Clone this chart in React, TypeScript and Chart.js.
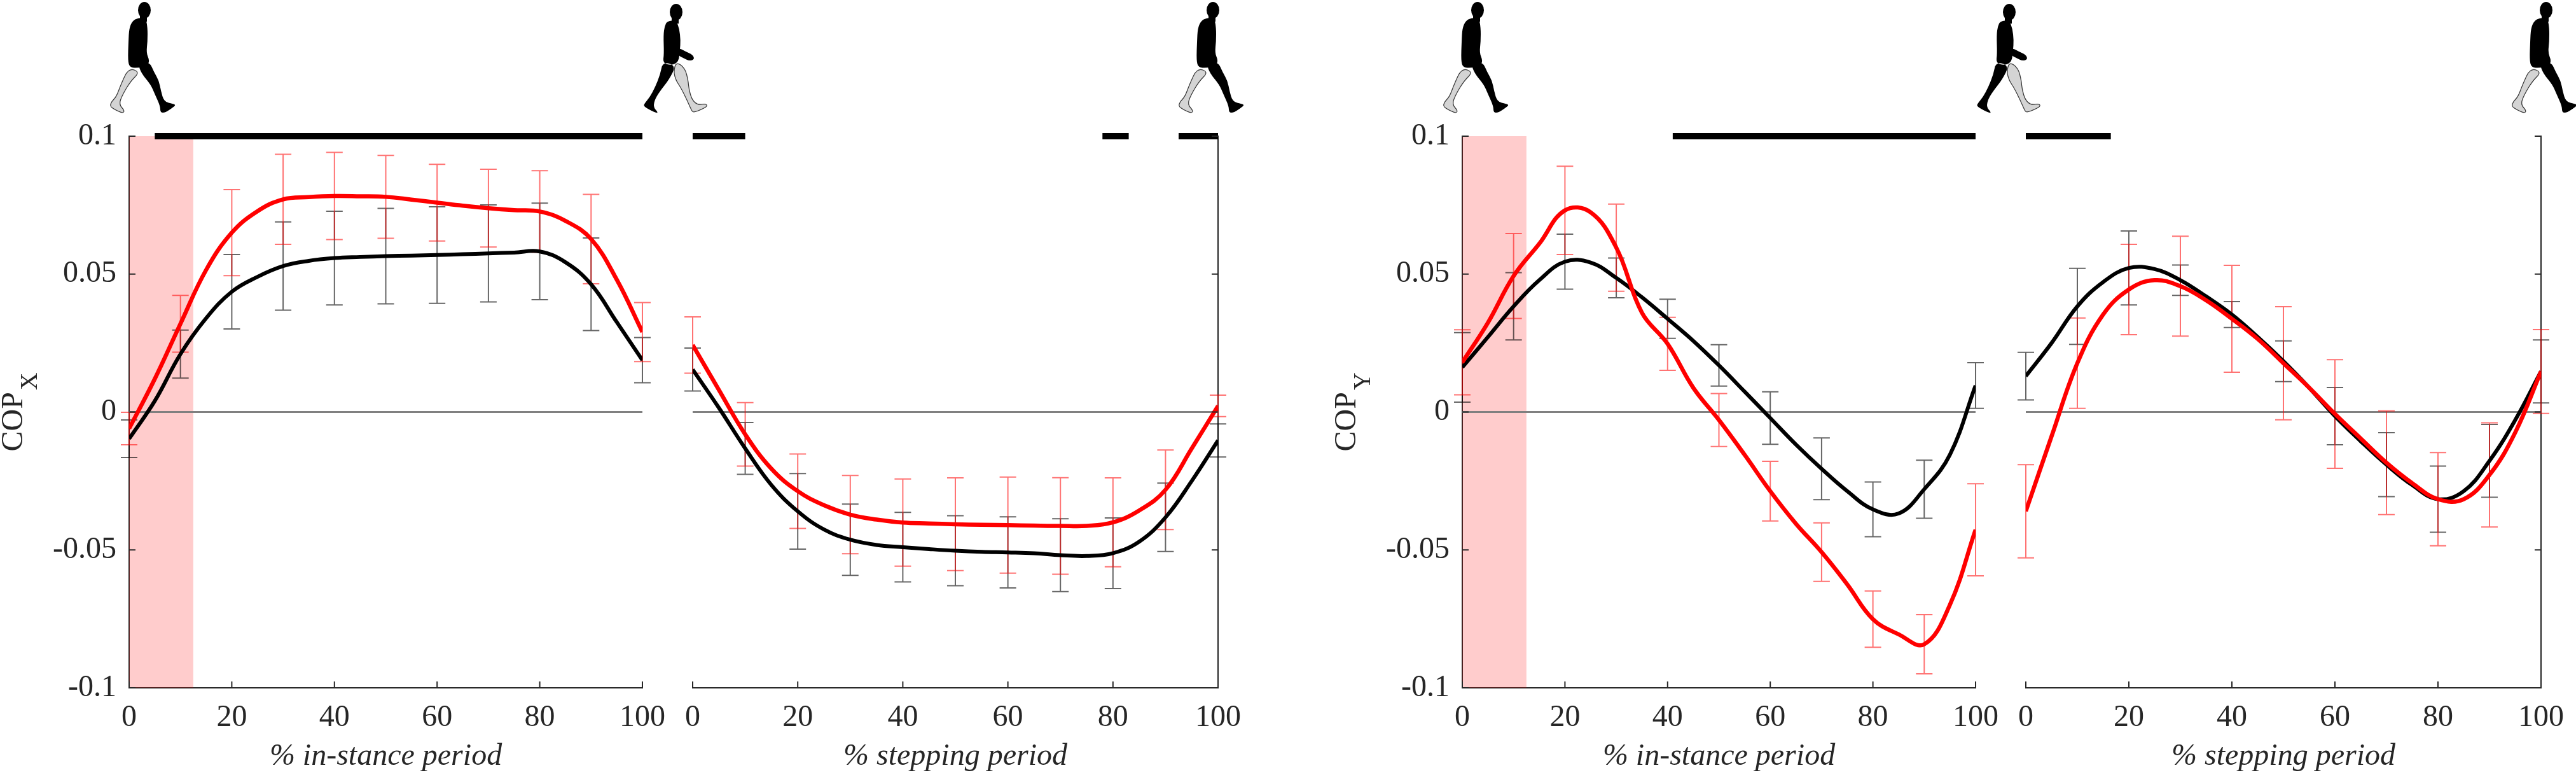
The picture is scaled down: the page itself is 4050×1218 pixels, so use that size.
import React, { useEffect, useRef } from 'react';
import Chart from 'chart.js/auto';

// sample positions along each period (%)
const pctSteps = [0, 5, 10, 15, 20, 25, 30, 35, 40, 45, 50, 55, 60, 65, 70, 75, 80, 85, 90, 95, 100];
const errSteps = [0, 10, 20, 30, 40, 50, 60, 70, 80, 90, 100];
const xTickLabels = ['0', '20', '40', '60', '80', '100'];
const yTickLabels = ['-0.1', '-0.05', '0', '0.05', '0.1'];

// COP_X, in-stance period
const copXStanceRed = [-0.006, 0.012, 0.032, 0.0515, 0.065, 0.0728, 0.0771, 0.0779, 0.0783, 0.0782, 0.078, 0.077, 0.0759, 0.0748, 0.0739, 0.0732, 0.0727, 0.0693, 0.0627, 0.048, 0.029];
const copXStanceBlack = [-0.0097, 0.004, 0.021, 0.034, 0.0436, 0.049, 0.0529, 0.0548, 0.0558, 0.0562, 0.0565, 0.0567, 0.0569, 0.0572, 0.0575, 0.0578, 0.0582, 0.0543, 0.0463, 0.0326, 0.0188];
const copXStanceRedSd = [0.0059, 0.0103, 0.0156, 0.0163, 0.0158, 0.015, 0.0139, 0.0141, 0.0148, 0.0162, 0.0107];
const copXStanceBlackSd = [0.0068, 0.0087, 0.0135, 0.016, 0.017, 0.0173, 0.0175, 0.0176, 0.0175, 0.0168, 0.0082];

// COP_X, stepping period
const copXStepRed = [0.0243, 0.008, -0.0081, -0.0206, -0.0287, -0.0338, -0.0372, -0.039, -0.0401, -0.0404, -0.0407, -0.0409, -0.041, -0.0412, -0.0413, -0.0413, -0.04, -0.0357, -0.0282, -0.0132, 0.0022];
const copXStepBlack = [0.0154, 0.0015, -0.0132, -0.0265, -0.036, -0.0426, -0.0463, -0.0482, -0.049, -0.0497, -0.0503, -0.0507, -0.0509, -0.0512, -0.0519, -0.0522, -0.0512, -0.047, -0.0382, -0.025, -0.0103];
const copXStepRedSd = [0.0102, 0.0115, 0.0135, 0.0142, 0.0158, 0.0168, 0.0174, 0.0175, 0.0161, 0.0144, 0.0039];
const copXStepBlackSd = [0.0078, 0.0094, 0.0137, 0.0129, 0.0126, 0.0127, 0.0129, 0.0132, 0.0128, 0.0124, 0.006];

// COP_Y, in-stance period
const copYStanceRed = [0.018, 0.0324, 0.0493, 0.061, 0.0731, 0.0724, 0.0596, 0.036, 0.0247, 0.0088, -0.0029, -0.0155, -0.0287, -0.0405, -0.0508, -0.0625, -0.0751, -0.0806, -0.0842, -0.0699, -0.0427];
const copYStanceBlack = [0.0162, 0.0272, 0.0383, 0.0478, 0.0545, 0.0542, 0.0486, 0.0416, 0.0338, 0.0258, 0.0169, 0.0074, -0.0022, -0.0118, -0.0206, -0.0287, -0.0353, -0.0368, -0.028, -0.0155, 0.0096];
const copYStanceRedSd = [0.0118, 0.0154, 0.016, 0.0158, 0.0096, 0.0096, 0.0108, 0.0106, 0.0102, 0.0107, 0.0167];
const copYStanceBlackSd = [0.0126, 0.0122, 0.01, 0.0072, 0.0071, 0.0075, 0.0095, 0.0112, 0.0099, 0.0105, 0.0083];

// COP_Y, stepping period
const copYStepRed = [-0.036, -0.0088, 0.0177, 0.0353, 0.0444, 0.0478, 0.0456, 0.0405, 0.0338, 0.0265, 0.0177, 0.0088, -0.0007, -0.0096, -0.0184, -0.0258, -0.0316, -0.0316, -0.0228, -0.0074, 0.0147];
const copYStepBlack = [0.013, 0.025, 0.0383, 0.0471, 0.0522, 0.0518, 0.0478, 0.0419, 0.0353, 0.0272, 0.0184, 0.0088, -0.0015, -0.0106, -0.0191, -0.0265, -0.0316, -0.0287, -0.0177, -0.0029, 0.0147];
const copYStepRedSd = [0.0169, 0.0164, 0.0164, 0.0181, 0.0194, 0.0205, 0.0197, 0.0188, 0.0169, 0.0189, 0.0152];
const copYStepBlackSd = [0.0086, 0.0138, 0.0134, 0.0055, 0.0047, 0.0074, 0.0104, 0.0116, 0.012, 0.0132, 0.0114];

// significant differences, [from, to] in %
const copXStanceSig = [[5, 100]];
const copXStepSig = [[0, 10], [78, 83], [92.5, 100]];
const copYStanceSig = [[41, 100]];
const copYStepSig = [[0, 16.5]];

// shaded window at the start of stance (%)
const shadeRange = [0, 12.5];

const FONT = "'Liberation Serif', 'Times New Roman', serif";
const AXIS_COLOR = '#262626';
const PAGE_W = 4050;
const PAGE_H = 1218;
const AREA_TOP = 214;
const AREA_BOTTOM = 1081;
const TICK_LEN = 10;

const labelFor = (labels: string[], v: number) =>
  labels.find((l) => Math.abs(parseFloat(l) - v) < 1e-9) ?? '';

interface PanelProps {
  left: number;
  width: number;
  areaLeft: number;
  areaRight: number;
  yAxisSide: 'left' | 'right';
  yLabelSub?: string;
  xTitle: string;
  red: number[];
  black: number[];
  redSd: number[];
  blackSd: number[];
  sig: number[][];
  shade?: number[];
}

function Panel(props: PanelProps) {
  const canvasRef = useRef<HTMLCanvasElement>(null);
  const chartInstance = useRef<Chart | null>(null);

  useEffect(() => {
    if (!canvasRef.current) return;
    const ctx = canvasRef.current.getContext('2d');
    if (!ctx) return;
    if (chartInstance.current) chartInstance.current.destroy();

    const { left, width, areaLeft, areaRight, yAxisSide, yLabelSub, xTitle, red, black, redSd, blackSd, sig, shade } = props;
    const yWidth = yAxisSide === 'left' ? areaLeft - left : 0;
    const padLeft = yAxisSide === 'left' ? 0 : areaLeft - left;
    const padRight = left + width - areaRight;

    const sigData: { x: number; y: number | null }[] = [];
    sig.forEach(([a, b]) => {
      sigData.push({ x: a, y: 0.1 }, { x: b, y: 0.1 }, { x: b, y: null });
    });

    const datasets: any[] = [
      {
        label: 'red',
        data: pctSteps.map((x, i) => ({ x, y: red[i] })),
        borderColor: 'rgb(255, 0, 0)',
        borderWidth: 6.5,
        pointRadius: 0,
        tension: 0.4,
        order: 0,
      },
      {
        label: 'black',
        data: pctSteps.map((x, i) => ({ x, y: black[i] })),
        borderColor: 'rgb(0, 0, 0)',
        borderWidth: 6,
        pointRadius: 0,
        tension: 0.4,
        order: 1,
      },
      {
        label: 'sig',
        data: sigData,
        borderColor: '#000',
        borderWidth: 10,
        pointRadius: 0,
        tension: 0,
        spanGaps: false,
        clip: false,
        order: 2,
      },
      {
        label: 'zero',
        data: [{ x: 0, y: 0 }, { x: 100, y: 0 }],
        borderColor: 'rgb(128, 128, 128)',
        borderWidth: 3,
        pointRadius: 0,
        order: 3,
      },
    ];
    if (shade) {
      datasets.push({
        label: 'shade',
        data: [{ x: shade[0], y: 0.1 }, { x: shade[1], y: 0.1 }],
        borderWidth: 0,
        borderColor: 'rgba(255, 0, 0, 0)',
        backgroundColor: 'rgba(255, 0, 0, 0.2)',
        fill: { value: -0.1 },
        pointRadius: 0,
        order: 4,
      });
    }

    const drawErr = (c: Chart, means: number[], sds: number[], color: string) => {
      const g = c.ctx;
      const xs = c.scales.x;
      const ys = c.scales.y;
      g.save();
      g.strokeStyle = color;
      g.lineWidth = 2;
      errSteps.forEach((x, i) => {
        const m = means[pctSteps.indexOf(x)];
        const px = xs.getPixelForValue(x);
        const top = ys.getPixelForValue(m + sds[i]);
        const bot = ys.getPixelForValue(m - sds[i]);
        g.beginPath();
        g.moveTo(px, top);
        g.lineTo(px, bot);
        g.moveTo(px - 13, top);
        g.lineTo(px + 13, top);
        g.moveTo(px - 13, bot);
        g.lineTo(px + 13, bot);
        g.stroke();
      });
      g.restore();
    };

    const extras = {
      id: 'panelExtras',
      afterDatasetDraw(c: Chart, args: any) {
        if (c.data.datasets[args.index].label !== 'zero') return;
        drawErr(c, black, blackSd, 'rgba(0, 0, 0, 0.6)');
        drawErr(c, red, redSd, 'rgba(255, 0, 0, 0.55)');
      },
      afterDraw(c: Chart) {
        const g = c.ctx;
        const area = c.chartArea;
        const xs = c.scales.x;
        const ys = c.scales.y;
        g.save();
        g.strokeStyle = AXIS_COLOR;
        g.lineWidth = 2;
        xs.ticks.forEach((t) => {
          const px = xs.getPixelForValue(t.value);
          g.beginPath();
          g.moveTo(px, area.bottom);
          g.lineTo(px, area.bottom - TICK_LEN);
          g.stroke();
        });
        const sx = yAxisSide === 'left' ? area.left : area.right;
        const dir = yAxisSide === 'left' ? 1 : -1;
        ys.ticks.forEach((t) => {
          const py = ys.getPixelForValue(t.value);
          g.beginPath();
          g.moveTo(sx, py);
          g.lineTo(sx + dir * TICK_LEN, py);
          g.stroke();
        });
        if (yLabelSub) {
          g.fillStyle = AXIS_COLOR;
          g.font = `48px ${FONT}`;
          const wMain = g.measureText('COP').width;
          g.font = `38px ${FONT}`;
          const wSub = g.measureText(yLabelSub).width;
          const total = wMain + 3 + wSub;
          const cy = (area.top + area.bottom) / 2;
          g.translate(area.left - 168, cy + total / 2);
          g.rotate(-Math.PI / 2);
          g.textAlign = 'left';
          g.textBaseline = 'alphabetic';
          g.font = `48px ${FONT}`;
          g.fillText('COP', 0, 0);
          g.font = `38px ${FONT}`;
          g.fillText(yLabelSub, wMain + 3, 23);
        }
        g.restore();
      },
    };

    chartInstance.current = new Chart(ctx, {
      type: 'line',
      data: { datasets },
      options: {
        animation: false,
        responsive: false,
        devicePixelRatio: 1,
        layout: { padding: { top: AREA_TOP, bottom: 0, left: padLeft, right: padRight } },
        plugins: { legend: { display: false }, tooltip: { enabled: false } },
        scales: {
          x: {
            type: 'linear',
            min: 0,
            max: 100,
            grid: { display: false, drawTicks: false },
            border: { display: true, color: AXIS_COLOR, width: 2 },
            ticks: {
              stepSize: 20,
              autoSkip: false,
              maxRotation: 0,
              padding: 19,
              color: AXIS_COLOR,
              font: { family: FONT, size: 48 },
              callback: (v: any) => labelFor(xTickLabels, Number(v)),
            },
            title: {
              display: true,
              text: xTitle,
              color: AXIS_COLOR,
              padding: { top: 0, bottom: 0 },
              font: { family: FONT, size: 48, style: 'italic' },
            },
            afterFit: (s: any) => {
              s.height = PAGE_H - AREA_BOTTOM;
            },
          },
          y: {
            type: 'linear',
            position: yAxisSide,
            min: -0.1,
            max: 0.1,
            grid: { display: false, drawTicks: false },
            border: { display: true, color: AXIS_COLOR, width: 2 },
            ticks: {
              stepSize: 0.05,
              display: yAxisSide === 'left',
              padding: 20,
              color: AXIS_COLOR,
              font: { family: FONT, size: 48 },
              callback: (v: any) => labelFor(yTickLabels, Number(v)),
            },
            afterFit: (s: any) => {
              s.width = yWidth;
            },
          },
        },
      },
      plugins: [extras],
    });

    return () => {
      if (chartInstance.current) {
        chartInstance.current.destroy();
        chartInstance.current = null;
      }
    };
  }, [props]);

  return (
    <canvas
      ref={canvasRef}
      width={props.width}
      height={PAGE_H}
      style={{ position: 'absolute', left: props.left, top: 0, width: props.width, height: PAGE_H }}
    />
  );
}

// walker silhouettes above the plots
const walkerLeft = [172, 1012, 1852, 2268, 3108, 3948];
const walkerPose = ['stride', 'swing', 'stride', 'stride', 'swing', 'stride'];

const strideGrey = [[30, 104], [18, 130], [11, 149], [3, 157], [1, 164], [8, 169], [21, 175], [24, 171], [15, 161], [20, 147], [33, 125], [48, 110]];
const strideBlack = [
  [[45, 25], [57, 25], [60, 40], [60, 62], [58, 80], [63, 92], [60, 100], [45, 104], [32, 103], [29, 92], [30, 62], [31, 42], [36, 30]],
  [[45, 97], [63, 94], [70, 110], [78, 124], [81, 140], [86, 157], [100, 160], [104, 162], [101, 165], [88, 174], [80, 174], [80, 164], [71, 144], [65, 130], [50, 112]],
];
const swingGrey = [[51, 94], [65, 104], [70, 124], [71, 137], [76, 154], [85, 162], [98, 160], [100, 164], [91, 169], [78, 174], [75, 170], [68, 154], [58, 134], [51, 124], [47, 110]];
const swingBlack = [
  [[37, 30], [51, 29], [56, 42], [58, 60], [57, 76], [55, 94], [44, 100], [30, 96], [32, 82], [31, 52], [33, 38]],
  [[30, 94], [26, 114], [18, 134], [10, 149], [1, 160], [0, 164], [10, 170], [21, 175], [22, 173], [15, 165], [18, 152], [28, 137], [40, 122], [51, 100]],
  [[55, 72], [66, 78], [77, 83], [80, 90], [72, 93], [62, 88], [54, 84]],
];

function smoothShape(g: CanvasRenderingContext2D, pts: number[][], ox: number, oy: number) {
  const n = pts.length;
  const mid = (a: number[], b: number[]) => [(a[0] + b[0]) / 2 + ox, (a[1] + b[1]) / 2 + oy];
  const start = mid(pts[n - 1], pts[0]);
  g.moveTo(start[0], start[1]);
  for (let i = 0; i < n; i++) {
    const p = pts[i];
    const m = mid(p, pts[(i + 1) % n]);
    g.quadraticCurveTo(p[0] + ox, p[1] + oy, m[0], m[1]);
  }
  g.closePath();
}

function drawWalker(g: CanvasRenderingContext2D, ox: number, oy: number, pose: string) {
  const grey = pose === 'stride' ? strideGrey : swingGrey;
  const blacks = pose === 'stride' ? strideBlack : swingBlack;
  const head = pose === 'stride' ? [55, 13] : [51, 16];
  g.beginPath();
  smoothShape(g, grey, ox, oy);
  g.fillStyle = 'rgb(212, 212, 212)';
  g.fill();
  g.strokeStyle = '#333';
  g.lineWidth = 1.2;
  g.stroke();
  g.beginPath();
  blacks.forEach((b) => smoothShape(g, b, ox, oy));
  g.fillStyle = '#000';
  g.fill();
  g.beginPath();
  g.ellipse(head[0] + ox, head[1] + oy, 10, 13, 0, 0, Math.PI * 2);
  g.fill();
  g.fillRect(head[0] + ox - 7, head[1] + oy + 8, 11, 10);
}

function Walkers() {
  const ref = useRef<HTMLCanvasElement>(null);
  useEffect(() => {
    const g = ref.current?.getContext('2d');
    if (!g) return;
    g.clearRect(0, 0, PAGE_W, 200);
    walkerLeft.forEach((x, i) => drawWalker(g, x, 3, walkerPose[i]));
  }, []);
  return (
    <canvas
      ref={ref}
      width={PAGE_W}
      height={200}
      style={{ position: 'absolute', left: 0, top: 0, width: PAGE_W, height: 200, pointerEvents: 'none' }}
    />
  );
}

const panels: PanelProps[] = [
  { left: 0, width: 1065, areaLeft: 203, areaRight: 1028, yAxisSide: 'left', yLabelSub: 'X', xTitle: '% in-stance period', red: copXStanceRed, black: copXStanceBlack, redSd: copXStanceRedSd, blackSd: copXStanceBlackSd, sig: copXStanceSig, shade: shadeRange },
  { left: 1040, width: 1000, areaLeft: 1089, areaRight: 1915, yAxisSide: 'right', xTitle: '% stepping period', red: copXStepRed, black: copXStepBlack, redSd: copXStepRedSd, blackSd: copXStepBlackSd, sig: copXStepSig },
  { left: 2096, width: 1065, areaLeft: 2299, areaRight: 3125, yAxisSide: 'left', yLabelSub: 'Y', xTitle: '% in-stance period', red: copYStanceRed, black: copYStanceBlack, redSd: copYStanceRedSd, blackSd: copYStanceBlackSd, sig: copYStanceSig, shade: shadeRange },
  { left: 3136, width: 914, areaLeft: 3185, areaRight: 4011, yAxisSide: 'right', xTitle: '% stepping period', red: copYStepRed, black: copYStepBlack, redSd: copYStepRedSd, blackSd: copYStepBlackSd, sig: copYStepSig },
];

export default function App() {
  useEffect(() => {
    document.body.style.margin = '0';
  }, []);
  return (
    <div style={{ position: 'relative', width: PAGE_W, height: PAGE_H, background: '#fff', overflow: 'hidden' }}>
      {panels.map((p, i) => (
        <Panel key={i} {...p} />
      ))}
      <Walkers />
    </div>
  );
}
